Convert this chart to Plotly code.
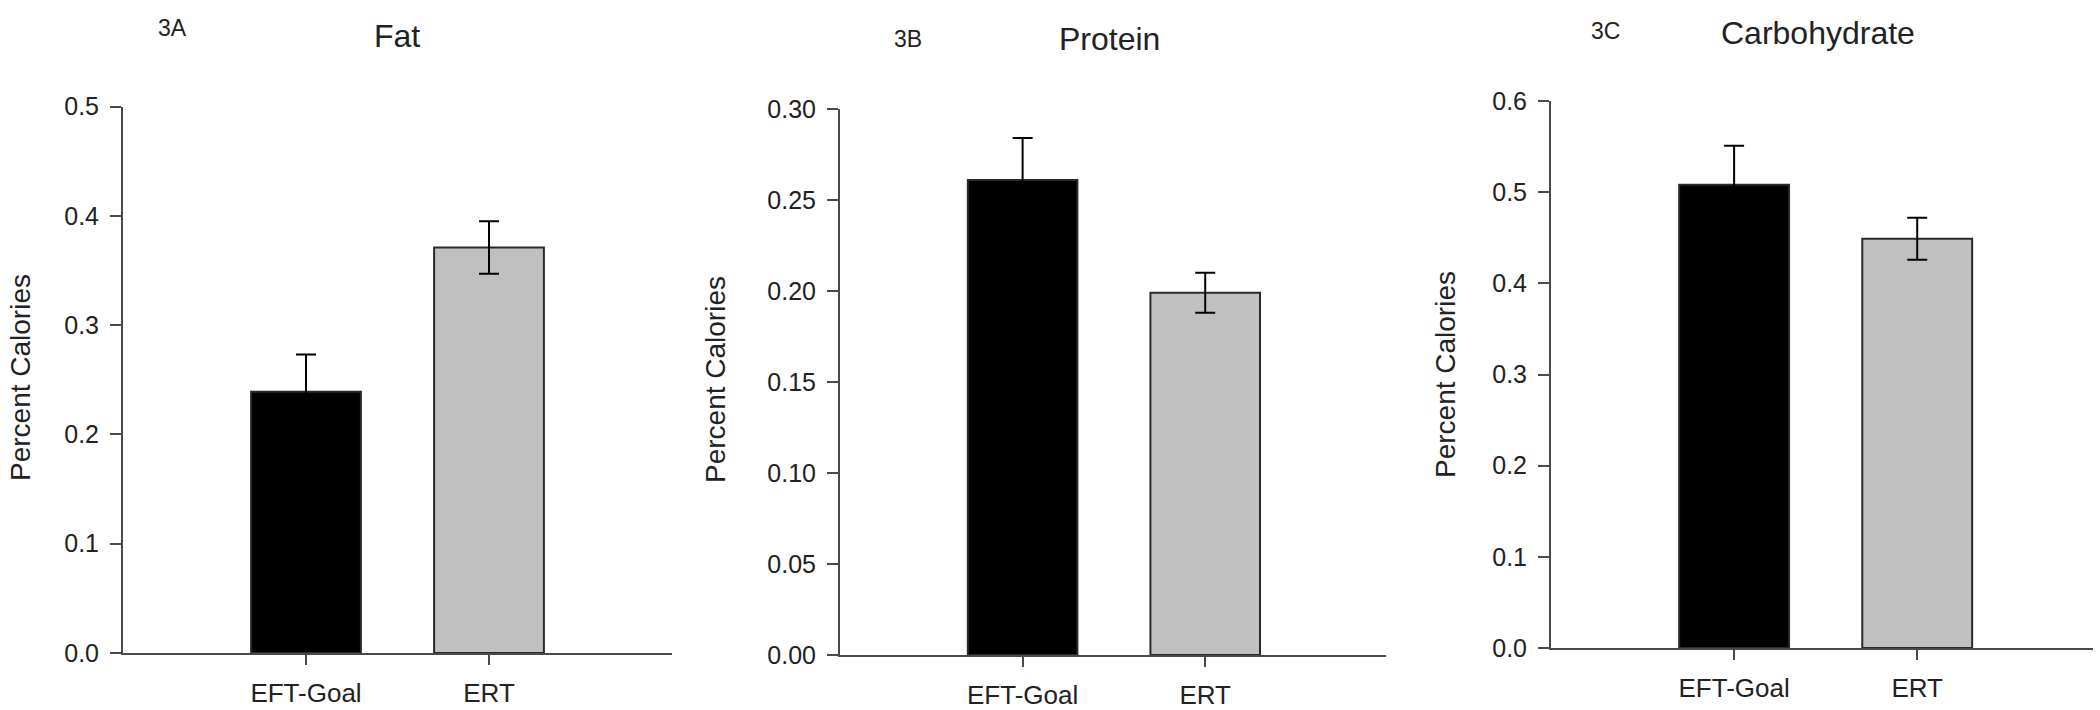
import plotly.graph_objects as go

groups = ["EFT-Goal", "ERT"]
panel_labels = ["3A", "3B", "3C"]
panel_titles = ["Fat", "Protein", "Carbohydrate"]
fat_mean = [0.239, 0.371]
fat_err = [0.034, 0.024]
protein_mean = [0.261, 0.199]
protein_err = [0.023, 0.011]
carb_mean = [0.508, 0.449]
carb_err = [0.043, 0.023]
y_ranges = [[0, 0.5], [0, 0.30], [0, 0.6]]
y_dticks = [0.1, 0.05, 0.1]
y_formats = [".1f", ".2f", ".1f"]
bar_colors = ["#000000", "#c0c0c0"]

means = [fat_mean, protein_mean, carb_mean]
errs = [fat_err, protein_err, carb_err]

W, H = 2100, 710
# pixel layout of each panel: x axis start/end, y pixel of 0 and of top
px = [(123, 672, 653, 106.5), (840, 1386, 655, 109), (1551, 2093, 648, 101)]
x_ranges = [[-1.0, 2.0], [-1.0, 1.99], [-1.0, 1.96]]
label_pos = [(173, 28), (908, 39), (1605, 31)]
title_pos = [(397, 36), (1109, 39), (1818, 33)]
ytitle_x = [21, 716, 1445]
ytitle_y = [378, 380, 375]

FONT = "Liberation Sans, Arial, sans-serif"
TXT = "#222222"
AX = "#4a4a4a"

fig = go.Figure()
for i in range(3):
    xa = "x" if i == 0 else f"x{i+1}"
    ya = "y" if i == 0 else f"y{i+1}"
    fig.add_trace(go.Bar(
        x=groups, y=means[i], xaxis=xa, yaxis=ya,
        marker=dict(color=bar_colors, line=dict(color="#2a2a2a", width=2)),
        width=0.6,
        error_y=dict(type="data", array=errs[i], visible=True,
                     color="#000000", thickness=2, width=10),
        showlegend=False,
    ))
    x0, x1, y0, y1 = px[i]
    xkey = "xaxis" if i == 0 else f"xaxis{i+1}"
    ykey = "yaxis" if i == 0 else f"yaxis{i+1}"
    fig.layout[xkey] = dict(
        domain=[x0 / W, x1 / W], anchor=ya, range=x_ranges[i], automargin=False,
        showline=True, linecolor=AX, linewidth=2, ticks="outside",
        ticklen=10, tickwidth=2, tickcolor=AX, showgrid=False, zeroline=False,
        ticklabelstandoff=6,
        tickfont=dict(family=FONT, size=26, color=TXT), fixedrange=True,
    )
    fig.layout[ykey] = dict(
        domain=[1 - y0 / H, 1 - y1 / H], anchor=xa, range=y_ranges[i],
        dtick=y_dticks[i], tick0=0, tickformat=y_formats[i], automargin=False,
        showline=True, linecolor=AX, linewidth=2, ticks="outside",
        ticklen=11, tickwidth=2, tickcolor=AX, showgrid=False, zeroline=False,
        ticklabelstandoff=6,
        tickfont=dict(family=FONT, size=25, color=TXT), fixedrange=True,
    )
    common = dict(xref="paper", yref="paper", showarrow=False,
                  xanchor="center", yanchor="middle")
    fig.add_annotation(text=panel_labels[i], x=label_pos[i][0] / W, y=1 - label_pos[i][1] / H,
                       font=dict(family=FONT, size=23, color=TXT), **common)
    fig.add_annotation(text=panel_titles[i], x=title_pos[i][0] / W, y=1 - title_pos[i][1] / H,
                       font=dict(family=FONT, size=32, color=TXT), **common)
    fig.add_annotation(text="Percent Calories", x=ytitle_x[i] / W, y=1 - ytitle_y[i] / H,
                       textangle=-90, font=dict(family=FONT, size=28, color=TXT), **common)

fig.update_layout(
    width=W, height=H, margin=dict(l=0, r=0, t=0, b=0),
    paper_bgcolor="white", plot_bgcolor="white", bargap=0.4,
)
fig.write_html("out.html", config={"displayModeBar": False},
               post_script="document.body.style.margin='0px';")
